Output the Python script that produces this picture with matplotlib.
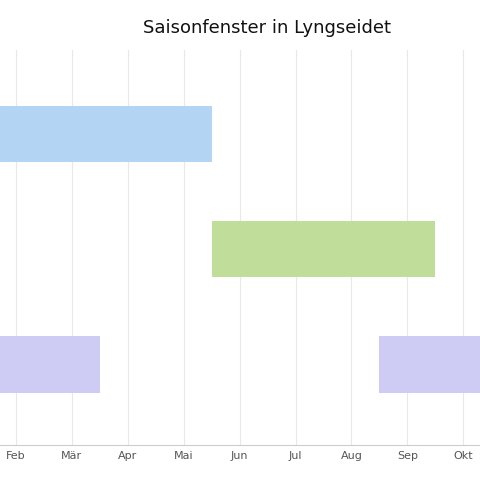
import matplotlib
matplotlib.use("Agg")
import matplotlib.pyplot as plt

# season windows in month units (2 = Feb 1st ...), wrap-around done as two pieces
seasons = ["Winter", "Sommer", "Nordlicht"]
starts = [[1.0], [5.5], [1.0, 8.5]]
ends = [[5.5], [9.5], [3.5, 11.0]]
colors = ["#b4d4f3", "#c0de9a", "#cecbf5"]
month_ticks = [2, 3, 4, 5, 6, 7, 8, 9, 10]
month_labels = ["Feb", "Mär", "Apr", "Mai", "Jun", "Jul", "Aug", "Sep", "Okt"]

fig = plt.figure(figsize=(4.8, 4.8), dpi=100)
ax = fig.add_axes([0, 35 / 480, 1, 395 / 480])

for i, s in enumerate(seasons):
    for a, b in zip(starts[i], ends[i]):
        ax.barh(i, b - a, left=a, height=0.49, color=colors[i], zorder=2)

ax.set_xlim(2 - 16 / 55.9, 2 + 464 / 55.9)
ax.set_ylim(2.7, -0.73)
ax.set_xticks(month_ticks)
ax.set_xticklabels(month_labels, fontsize=8, color="#555555")
ax.tick_params(axis="x", length=0, pad=4)
ax.set_yticks([])
ax.grid(axis="x", color="#e8e8e8", linewidth=0.8, zorder=0)
for sp in ["top", "left", "right"]:
    ax.spines[sp].set_visible(False)
ax.spines["bottom"].set_color("#cccccc")

fig.text(267 / 480, 1 - 28 / 480, "Saisonfenster in Lyngseidet", ha="center", va="center",
         fontsize=13, color="#111111")

fig.savefig("out.png", dpi=100)
